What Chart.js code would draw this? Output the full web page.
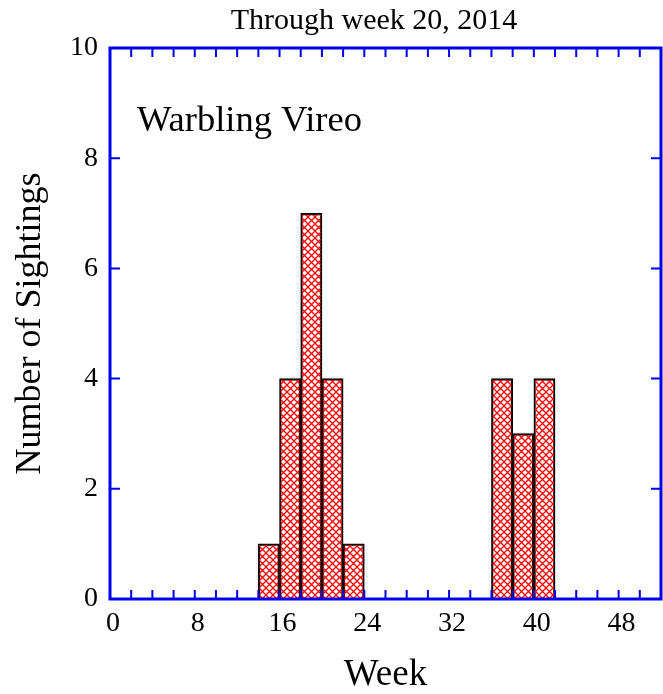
<!DOCTYPE html>
<html>
<head>
<meta charset="utf-8">
<title>Warbling Vireo</title>
<script src="https://cdn.jsdelivr.net/npm/chart.js@4.4.1/dist/chart.umd.min.js"></script>
<style>
    body { margin: 0; background: #fff; }
    #wrap { width: 663px; height: 694px; }
</style>
</head>
<body>
<div id="wrap"><canvas id="bar-chart"></canvas></div>
<script>
// sightings per 2-week bin (bin start week)
const binStart = [14, 16, 18, 20, 22, 36, 38, 40];
const sightings = [1, 4, 7, 4, 1, 4, 3, 4];
const binWidth = 2;
const weekLabels = [0, 8, 16, 24, 32, 40, 48];
const countLabels = [0, 2, 4, 6, 8, 10];

const serif = "'Liberation Serif', 'Times New Roman', serif";
const axisBlue = '#0000ee';

// red cross hatch fill
function crossHatch() {
    const c = document.createElement('canvas');
    c.width = 7;
    c.height = 7;
    const g = c.getContext('2d');
    g.strokeStyle = '#ff0000';
    g.lineWidth = 1.3;
    g.beginPath();
    g.moveTo(-1, -1); g.lineTo(8, 8);
    g.moveTo(8, -1); g.lineTo(-1, 8);
    g.stroke();
    return g.createPattern(c, 'repeat');
}

// box round the plot with inward ticks, plus the titles
const framePlugin = {
    id: 'frame',
    afterDatasetsDraw(chart) {
        const { ctx, chartArea: a, scales: { x, y } } = chart;
        ctx.save();
        ctx.strokeStyle = axisBlue;
        ctx.lineWidth = 2;
        ctx.beginPath();
        x.ticks.forEach(t => {
            const px = x.getPixelForValue(t.value);
            ctx.moveTo(px, a.bottom); ctx.lineTo(px, a.bottom - 9);
            ctx.moveTo(px, a.top); ctx.lineTo(px, a.top + 9);
        });
        y.ticks.forEach(t => {
            const py = y.getPixelForValue(t.value);
            ctx.moveTo(a.left, py); ctx.lineTo(a.left + 10, py);
            ctx.moveTo(a.right, py); ctx.lineTo(a.right - 10, py);
        });
        ctx.stroke();
        ctx.lineWidth = 3;
        ctx.strokeRect(a.left, a.top, a.right - a.left, a.bottom - a.top);
        ctx.restore();
    },
    afterDraw(chart) {
        const ctx = chart.ctx;
        ctx.save();
        ctx.fillStyle = '#000';
        ctx.font = '30px ' + serif;
        ctx.textAlign = 'center';
        ctx.textBaseline = 'middle';
        ctx.fillText('Through week 20, 2014', 374, 21);
        ctx.font = '36.5px ' + serif;
        ctx.textAlign = 'left';
        ctx.textBaseline = 'alphabetic';
        ctx.fillText('Warbling Vireo', 137, 131);
        ctx.restore();
    }
};

const ctx = document.getElementById('bar-chart').getContext('2d');
new Chart(ctx, {
    type: 'bar',
    data: {
        datasets: [{
            label: 'Warbling Vireo',
            data: binStart.map((s, i) => ({ x: s + binWidth / 2, y: sightings[i] })),
            backgroundColor: crossHatch(),
            borderColor: '#000',
            borderWidth: 1.5,
            barPercentage: 1,
            categoryPercentage: 1
        }]
    },
    options: {
        responsive: true,
        maintainAspectRatio: false,
        animation: false,
        layout: { padding: { top: 48, right: 2, left: 0, bottom: 0 } },
        plugins: {
            legend: { display: false },
            tooltip: { enabled: false }
        },
        scales: {
            x: {
                type: 'linear',
                min: 0,
                max: 52,
                offset: false,
                grid: { display: false, drawTicks: false, tickLength: 0 },
                border: { display: false },
                ticks: {
                    stepSize: 2,
                    autoSkip: false,
                    maxRotation: 0,
                    padding: 8,
                    labelOffset: 3,
                    color: '#000',
                    font: { family: serif, size: 28 },
                    callback: v => weekLabels.includes(v) ? v : ''
                },
                title: {
                    display: true,
                    text: 'Week',
                    color: '#000',
                    font: { family: serif, size: 37, lineHeight: 1 },
                    padding: { top: 0, bottom: 0 }
                },
                afterFit: s => {
                    s.height = 95;
                    // no extra room at the right end, the last label is empty
                    s.paddingLeft = 0;
                    s.paddingRight = 0;
                }
            },
            y: {
                min: 0,
                max: 10,
                grid: { display: false, drawTicks: false, tickLength: 0 },
                border: { display: false },
                afterBuildTicks: s => { s.ticks = countLabels.map(v => ({ value: v })); },
                ticks: {
                    padding: 12,
                    color: '#000',
                    font: { family: serif, size: 28 }
                },
                title: {
                    display: true,
                    text: 'Number of Sightings',
                    color: '#000',
                    font: { family: serif, size: 36, lineHeight: 1 },
                    padding: { top: 13, bottom: 0 }
                },
                afterFit: s => { s.width = 110; }
            }
        }
    },
    plugins: [framePlugin]
});
</script>
</body>
</html>
